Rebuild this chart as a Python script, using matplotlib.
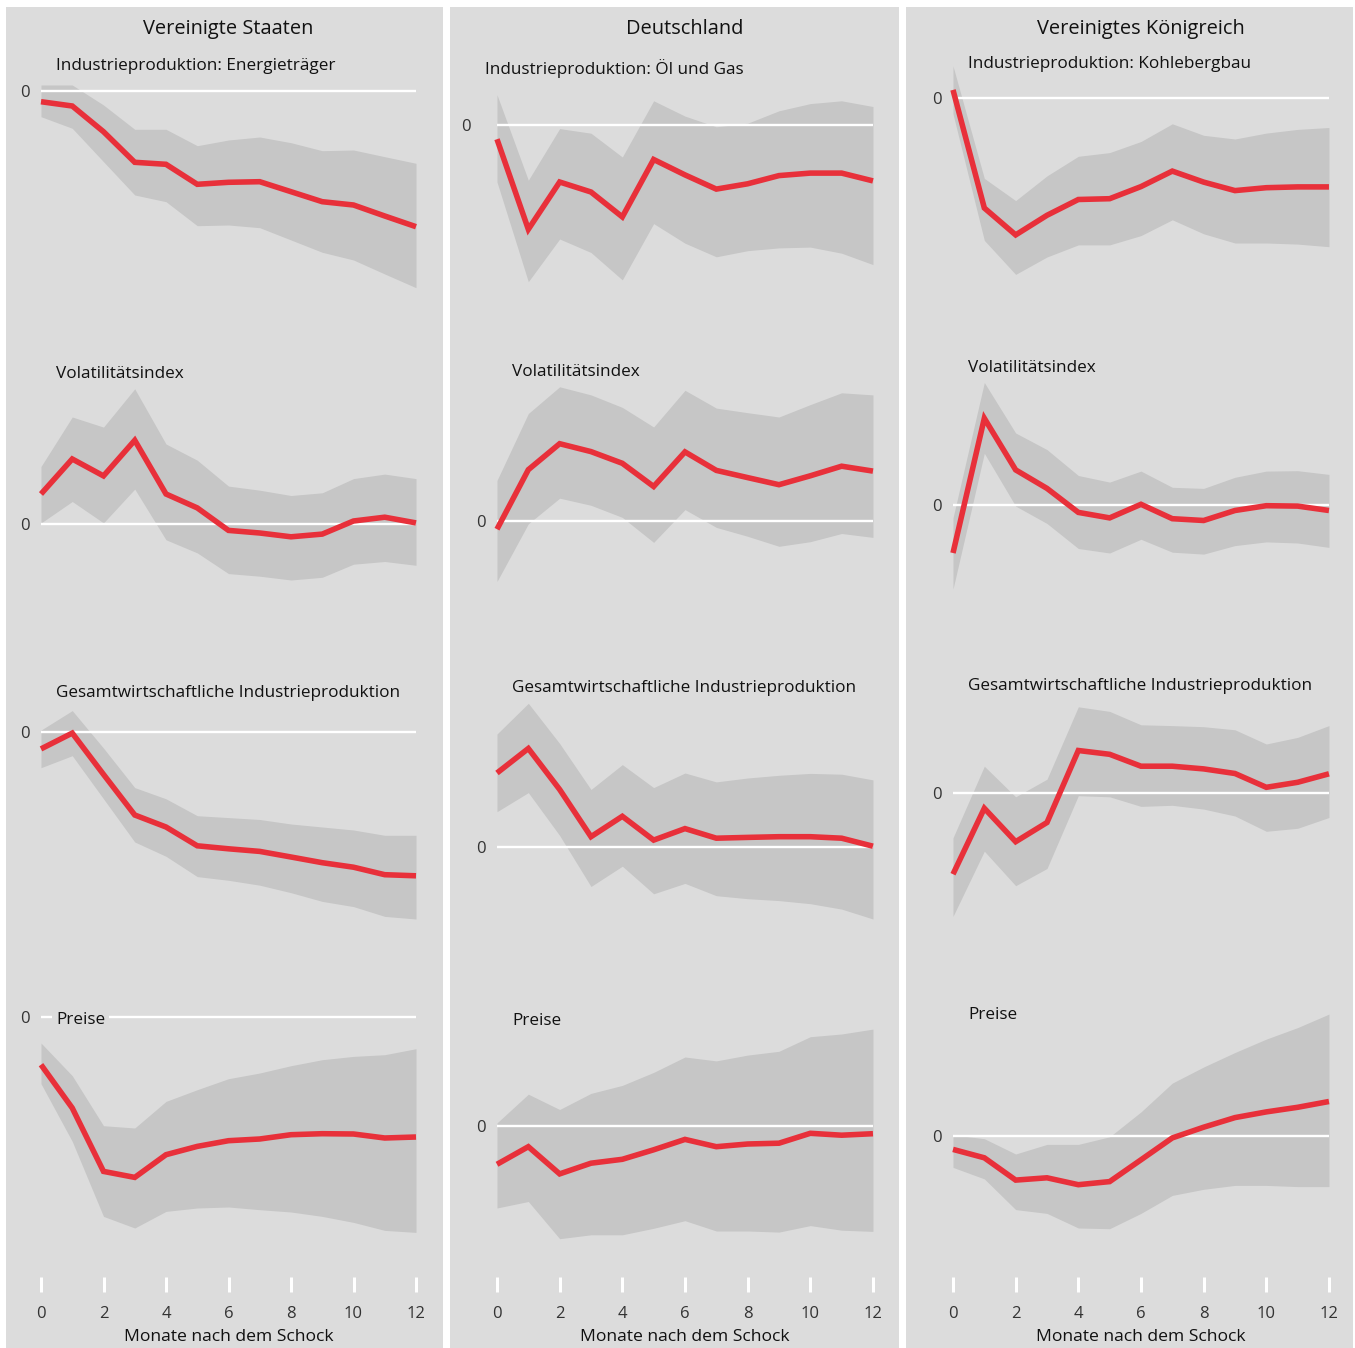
import numpy as np
import matplotlib
matplotlib.use("Agg")
import matplotlib.pyplot as plt
from matplotlib.transforms import offset_copy

plt.rcParams["font.family"] = ["Open Sans", "DejaVu Sans"]

# Impulsantworten, Monate 0..12 (Werte relativ zu 0, willkuerliche Einheit)
months = np.arange(13)

countries = ["Vereinigte Staaten", "Deutschland", "Vereinigtes Königreich"]
subtitles = [
    ["Industrieproduktion: Energieträger", "Volatilitätsindex",
     "Gesamtwirtschaftliche Industrieproduktion", "Preise"],
    ["Industrieproduktion: Öl und Gas", "Volatilitätsindex",
     "Gesamtwirtschaftliche Industrieproduktion", "Preise"],
    ["Industrieproduktion: Kohlebergbau", "Volatilitätsindex",
     "Gesamtwirtschaftliche Industrieproduktion", "Preise"],
]

# Vereinigte Staaten
us_energy = [-1.07, -1.50, -4.07, -7.13, -7.33, -9.33, -9.13, -9.07, -10.07, -11.07, -11.40, -12.50, -13.57]
us_energy_hi = [0.60, 0.60, -1.40, -3.83, -3.83, -5.47, -4.90, -4.60, -5.17, -5.97, -5.90, -6.57, -7.23]
us_energy_lo = [-2.57, -3.73, -7.07, -10.40, -11.07, -13.47, -13.40, -13.67, -14.90, -16.13, -16.90, -18.30, -19.67]

us_vol = [3.00, 6.50, 4.81, 8.37, 3.00, 1.61, -0.64, -0.90, -1.28, -1.01, 0.30, 0.68, 0.11]
us_vol_hi = [5.75, 10.70, 9.69, 13.52, 8.00, 6.38, 3.79, 3.38, 2.85, 3.12, 4.54, 4.99, 4.54]
us_vol_lo = [0.10, 2.25, 0.11, 3.49, -1.58, -2.89, -4.96, -5.22, -5.60, -5.33, -4.02, -3.75, -4.13]

us_ip = [-1.69, -0.11, -4.24, -8.30, -9.50, -11.38, -11.68, -11.94, -12.50, -13.07, -13.52, -14.27, -14.38]
us_ip_hi = [0.19, 2.14, -1.61, -5.56, -6.68, -8.37, -8.56, -8.75, -9.20, -9.50, -9.80, -10.33, -10.33]
us_ip_lo = [-3.57, -2.37, -6.68, -11.00, -12.43, -14.46, -14.83, -15.32, -16.07, -16.94, -17.46, -18.44, -18.70]

us_price = [-4.77, -9.10, -15.44, -16.04, -13.77, -12.94, -12.37, -12.20, -11.77, -11.67, -11.70, -12.10, -12.00]
us_price_hi = [-2.60, -5.87, -10.87, -11.10, -8.44, -7.27, -6.17, -5.60, -4.87, -4.27, -3.94, -3.77, -3.17]
us_price_lo = [-6.67, -12.44, -19.94, -21.10, -19.44, -19.10, -19.00, -19.27, -19.50, -19.94, -20.54, -21.34, -21.54]

# Deutschland
de_oil = [-1.42, -10.43, -5.70, -6.70, -9.19, -3.45, -4.99, -6.41, -5.88, -5.06, -4.81, -4.81, -5.59]
de_oil_hi = [3.03, -5.52, -0.36, -0.82, -3.20, 2.42, 0.89, -0.18, 0.18, 1.42, 2.14, 2.42, 1.85]
de_oil_lo = [-5.70, -15.67, -11.40, -12.75, -15.49, -9.86, -11.82, -13.18, -12.57, -12.29, -12.21, -12.82, -13.96]

de_vol = [-0.82, 5.13, 7.73, 6.94, 5.77, 3.45, 6.91, 5.06, 4.34, 3.63, 4.52, 5.48, 4.99]
de_vol_hi = [4.06, 10.75, 13.42, 12.61, 11.36, 9.40, 13.07, 11.29, 10.83, 10.40, 11.64, 12.82, 12.61]
de_vol_lo = [-6.05, -0.28, 2.28, 1.57, 0.36, -2.14, 1.14, -0.64, -1.53, -2.53, -2.07, -1.25, -1.64]

de_ip = [7.40, 9.85, 5.75, 1.03, 3.07, 0.69, 1.84, 0.88, 0.96, 1.03, 1.03, 0.88, 0.08]
de_ip_hi = [11.30, 14.37, 10.35, 5.75, 8.24, 5.94, 7.40, 6.51, 6.90, 7.17, 7.36, 7.28, 6.71]
de_ip_lo = [3.53, 5.44, 1.15, -3.95, -1.92, -4.68, -3.64, -4.87, -5.17, -5.36, -5.67, -6.21, -7.20]

de_price = [-3.83, -2.07, -4.79, -3.72, -3.33, -2.38, -1.34, -2.07, -1.80, -1.72, -0.73, -0.92, -0.77]
de_price_hi = [0.31, 3.18, 1.65, 3.26, 4.06, 5.36, 6.90, 6.51, 7.09, 7.47, 8.93, 9.20, 9.69]
de_price_lo = [-8.20, -7.55, -11.27, -10.88, -10.88, -10.23, -9.47, -10.50, -10.50, -10.61, -9.96, -10.42, -10.54]

# Vereinigtes Koenigreich
uk_coal = [0.81, -11.00, -13.69, -11.73, -10.15, -10.07, -8.86, -7.31, -8.41, -9.26, -8.97, -8.89, -8.89]
uk_coal_hi = [3.21, -8.04, -10.26, -7.79, -5.83, -5.46, -4.35, -2.58, -3.73, -4.10, -3.51, -3.14, -2.95]
uk_coal_lo = [-1.59, -14.24, -17.64, -15.90, -14.69, -14.69, -13.76, -12.18, -13.58, -14.50, -14.50, -14.61, -14.87]

uk_vol = [-4.80, 8.67, 3.51, 1.66, -0.74, -1.29, 0.07, -1.37, -1.55, -0.55, -0.07, -0.11, -0.55]
uk_vol_hi = [-1.29, 12.25, 7.20, 5.54, 2.95, 2.29, 3.39, 1.77, 1.66, 2.77, 3.39, 3.43, 3.06]
uk_vol_lo = [-8.41, 5.17, -0.11, -1.85, -4.35, -4.80, -3.43, -4.72, -4.91, -4.06, -3.69, -3.80, -4.24]

uk_ip = [-8.12, -1.53, -4.87, -2.95, 4.25, 3.87, 2.68, 2.68, 2.41, 1.95, 0.57, 1.07, 1.92]
uk_ip_hi = [-4.48, 2.68, -0.38, 1.38, 8.62, 8.16, 6.82, 6.74, 6.63, 6.32, 4.90, 5.56, 6.74]
uk_ip_lo = [-12.34, -5.82, -9.27, -7.55, -0.27, -0.38, -1.34, -1.23, -1.61, -2.30, -3.83, -3.53, -2.45]

uk_price = [-1.34, -2.18, -4.41, -4.18, -4.87, -4.56, -2.38, -0.19, 0.88, 1.84, 2.41, 2.87, 3.45]
uk_price_hi = [0.11, -0.27, -1.80, -0.84, -0.84, -0.08, 2.41, 5.29, 6.90, 8.35, 9.69, 10.84, 12.19]
uk_price_lo = [-3.14, -4.29, -7.36, -7.74, -9.20, -9.27, -7.74, -5.94, -5.33, -4.94, -4.94, -5.06, -5.06]

series = [
    [(us_energy, us_energy_lo, us_energy_hi), (us_vol, us_vol_lo, us_vol_hi),
     (us_ip, us_ip_lo, us_ip_hi), (us_price, us_price_lo, us_price_hi)],
    [(de_oil, de_oil_lo, de_oil_hi), (de_vol, de_vol_lo, de_vol_hi),
     (de_ip, de_ip_lo, de_ip_hi), (de_price, de_price_lo, de_price_hi)],
    [(uk_coal, uk_coal_lo, uk_coal_hi), (uk_vol, uk_vol_lo, uk_vol_hi),
     (uk_ip, uk_ip_lo, uk_ip_hi), (uk_price, uk_price_lo, uk_price_hi)],
]

# --- layout (pixels of the 1355x1348 canvas) ---
W, H = 1355, 1348
bg = "#dcdcdc"
band_c = "#c6c6c6"
red = "#e8303a"
txt = "#111111"

col_bg = [(6, 443), (450, 899), (906, 1353)]
month0 = [41, 497, 953]
step = [31.25, 31.33, 31.33]
rows = [(50, 320), (340, 640), (660, 965), (975, 1265)]
px_per_unit = 10.0
zero_px = [[91, 524, 732, 1017], [125, 521, 847, 1126], [98, 505, 793, 1136]]
sub_dx = [[15, 15, 15, 15], [-12, 15, 15, 15], [15, 15, 15, 15]]
sub_y = [[66, 374, 693, 1020], [69, 372, 688, 1021], [64, 368, 686, 1015]]
zero_lbl_dx = [[-16, -16, -16, -16], [-31, -16, -16, -16], [-16, -16, -16, -16]]


def fx(x):
    return x / W


def fy(y):
    return 1 - y / H


fig = plt.figure(figsize=(W / 100, H / 100), dpi=100, facecolor="white")

for c in range(3):
    x0, x1 = col_bg[c]
    bga = fig.add_axes([fx(x0), 0, (x1 - x0) / W, fy(7)], facecolor=bg, zorder=0)
    bga.set_xticks([])
    bga.set_yticks([])
    for s in bga.spines.values():
        s.set_visible(False)

    m0 = month0[c]
    left = m0 - 0.5 * step[c]
    width = 13 * step[c]
    fig.text(fx(m0 + 6 * step[c]), fy(29), countries[c], ha="center", va="center",
             fontsize=14.4, color=txt, zorder=5)

    for r in range(4):
        top, bot = rows[r]
        ax = fig.add_axes([fx(left), fy(bot), width / W, (bot - top) / H], zorder=2)
        ax.patch.set_visible(False)
        z = zero_px[c][r]
        ax.set_xlim(-0.5, 12.5)
        ax.set_ylim((z - bot) / px_per_unit, (z - top) / px_per_unit)
        ax.axis("off")

        line, lo, hi = series[c][r]
        ax.fill_between(months, lo, hi, color=band_c, lw=0, zorder=1)
        ax.hlines(0, 0, 12, color="white", lw=1.7, zorder=2)
        ax.plot(months, line, color=red, lw=4.0, solid_capstyle="butt",
                solid_joinstyle="miter", zorder=3, clip_on=False)
        ax.text(zero_lbl_dx[c][r] / step[c], 0, "0", ha="center", va="center",
                fontsize=12, color="#333333",
                transform=offset_copy(ax.transData, fig=fig, y=-1.5, units="points"))
        fig.text(fx(m0 + sub_dx[c][r]), fy(sub_y[c][r]), subtitles[c][r],
                 ha="left", va="center", fontsize=12.3, color=txt, zorder=6,
                 bbox=dict(facecolor=bg, edgecolor="none", pad=3))

    # x axis with white tick marks
    tax = fig.add_axes([fx(left), fy(1292), width / W, 16 / H], zorder=3)
    tax.patch.set_visible(False)
    tax.set_xlim(-0.5, 12.5)
    tax.set_yticks([])
    for s in tax.spines.values():
        s.set_visible(False)
    tax.set_xticks(np.arange(0, 13, 2))
    tax.tick_params(axis="x", direction="in", length=11, width=2.2, color="white",
                    labelsize=12, labelcolor="#333333", pad=10)
    tax.set_xlabel("Monate nach dem Schock", fontsize=12.6, color=txt, labelpad=5)

fig.savefig("out.png", dpi=100, facecolor="white")
